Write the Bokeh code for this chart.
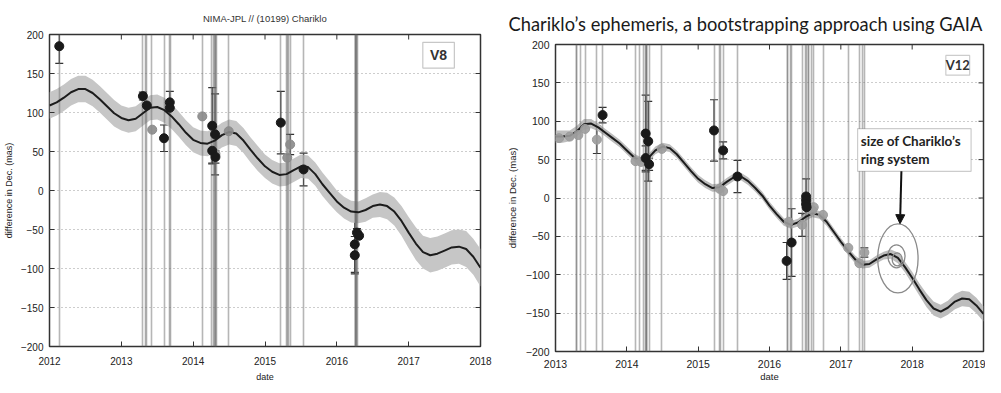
import math
from bokeh.plotting import figure
from bokeh.layouts import row, column
from bokeh.models import (ColumnDataSource, FixedTicker, Whisker, TeeHead, Range1d,
                          BoxAnnotation, Label, Arrow, NormalHead)
from bokeh.embed import file_html
from bokeh.resources import INLINE

# ------------------------------------------------------------------ data
L_YEARS = [2012, 2013, 2014, 2015, 2016, 2017, 2018]
R_YEARS = [2013, 2014, 2015, 2016, 2017, 2018, 2019]
Y_TICKS = [-200, -150, -100, -50, 0, 50, 100, 150, 200]
Y_LABELS = ["\u2212200", "\u2212150", "\u2212100", "\u221250", "0", "50", "100", "150", "200"]
Y_GRID = [-150, -100, -50, 0, 50, 100, 150]

LEFT_TITLE = "NIMA-JPL // (10199) Chariklo"
RIGHT_TITLE = "Chariklo\u2019s ephemeris, a bootstrapping approach using GAIA"
Y_LABEL = "difference in Dec. (mas)"
X_LABEL = "date"
LEFT_TAG = "V8"
RIGHT_TAG = "V12"
NOTE_LINES = ["size of Chariklo\u2019s", "ring system"]

# left panel (V8) model curve and its uncertainty band
L_T = [2012.0, 2012.1, 2012.2, 2012.3, 2012.4, 2012.5, 2012.6, 2012.7, 2012.8, 2012.9,
       2013.0, 2013.1, 2013.2, 2013.3, 2013.4, 2013.5, 2013.6, 2013.7, 2013.8, 2013.9,
       2014.0, 2014.1, 2014.2, 2014.3, 2014.4, 2014.5, 2014.6, 2014.7, 2014.8, 2014.9,
       2015.0, 2015.1, 2015.2, 2015.3, 2015.4, 2015.5, 2015.6, 2015.7, 2015.8, 2015.9,
       2016.0, 2016.1, 2016.2, 2016.3, 2016.4, 2016.5, 2016.6, 2016.7, 2016.8, 2016.9,
       2017.0, 2017.1, 2017.2, 2017.3, 2017.4, 2017.5, 2017.6, 2017.7, 2017.8, 2017.9,
       2018.0]
L_MODEL = [109, 113, 119, 126, 130, 130, 125, 117, 108, 99,
           93, 90, 92, 99, 106, 107, 103, 95, 85, 74,
           65, 61, 60, 64, 71, 75, 73, 64, 52, 41,
           31, 24, 20, 21, 26, 31, 30, 21, 8, -3,
           -14, -22, -27, -28, -25, -20, -18, -20, -27, -39,
           -54, -68, -79, -83, -81, -77, -73, -72, -75, -85,
           -99]
L_SIGMA = [17, 17, 17, 17, 17, 17, 17, 17, 17, 17,
           16, 16, 16, 16, 16, 16, 16, 16, 16, 16,
           16, 16, 16, 16, 16, 16, 16, 16, 16, 16,
           15, 15, 15, 15, 15, 15, 15, 15, 15, 15,
           14, 14, 14, 14, 15, 15, 16, 17, 18, 19,
           20, 21, 21, 22, 22, 22, 22, 22, 23, 23,
           24]

# right panel (V12) model curve and its uncertainty band
R_T = [2013.0, 2013.1, 2013.2, 2013.3, 2013.4, 2013.5, 2013.6, 2013.7, 2013.8, 2013.9,
       2014.0, 2014.1, 2014.2, 2014.3, 2014.4, 2014.5, 2014.6, 2014.7, 2014.8, 2014.9,
       2015.0, 2015.1, 2015.2, 2015.3, 2015.4, 2015.5, 2015.6, 2015.7, 2015.8, 2015.9,
       2016.0, 2016.1, 2016.2, 2016.3, 2016.4, 2016.5, 2016.6, 2016.7, 2016.8, 2016.9,
       2017.0, 2017.1, 2017.2, 2017.3, 2017.4, 2017.5, 2017.6, 2017.7, 2017.8, 2017.9,
       2018.0, 2018.1, 2018.2, 2018.3, 2018.4, 2018.5, 2018.6, 2018.7, 2018.8, 2018.9,
       2019.0]
R_MODEL = [80, 80, 81, 87, 96, 97, 92, 85, 78, 71,
           62, 53, 48, 52, 62, 67, 65, 57, 46, 35,
           25, 18, 13, 14, 21, 27, 28, 22, 13, 3,
           -10, -21, -31, -35, -32, -25, -20, -22, -31, -44,
           -57, -69, -80, -87, -86, -80, -75, -73, -78, -90,
           -104, -119, -133, -144, -148, -143, -135, -131, -132, -140,
           -151]
R_SIGMA = [8, 8, 7, 7, 7, 6, 5, 5, 5, 5,
           5, 5, 5, 5, 5, 5, 5, 5, 5, 5,
           5, 5, 5, 5, 5, 5, 5, 5, 5, 5,
           5, 5, 5, 5, 5, 5, 5, 5, 5, 5,
           5, 5, 5, 5, 5, 5, 5, 6, 7, 7,
           8, 8, 9, 9, 9, 9, 10, 10, 10, 10,
           10]

# observation dates (vertical lines)
L_OBS = [2012.136,
         2013.300, 2013.330, 2013.355, 2013.425, 2013.594, 2013.668, 2013.685,
         2014.127, 2014.257, 2014.280, 2014.295, 2014.305, 2014.312, 2014.327, 2014.495,
         2015.210, 2015.305, 2015.318, 2015.330, 2015.350, 2015.537,
         2016.255, 2016.260, 2016.266, 2016.272, 2016.278, 2016.283]
R_OBS = [2013.290, 2013.300, 2013.344, 2013.415, 2013.580, 2013.660,
         2014.122, 2014.180, 2014.227, 2014.265, 2014.270, 2014.276, 2014.282, 2014.320, 2014.490,
         2015.222, 2015.300, 2015.316, 2015.350, 2015.551,
         2016.250, 2016.259, 2016.300, 2016.307,
         2016.457, 2016.500, 2016.513, 2016.540, 2016.552, 2016.590, 2016.620, 2016.750,
         2017.105, 2017.255, 2017.300, 2017.330]

# measured offsets (dark = black dots, grey = grey dots)
L_DARK_T = [2012.136, 2013.300, 2013.355, 2013.594, 2013.675, 2013.675, 2014.265, 2014.265,
            2014.305, 2014.310, 2015.220, 2015.537, 2016.250, 2016.250, 2016.280, 2016.310]
L_DARK_Y = [185, 121, 109, 67, 113, 106, 83, 51, 72, 43, 87, 27, -69, -83, -54, -58]
L_GREY_T = [2013.430, 2014.127, 2014.310, 2014.495, 2015.310, 2015.350]
L_GREY_Y = [78, 95, 47, 76, 42, 59]
L_ERR_T = [2012.136, 2013.300, 2013.355, 2013.594, 2013.675, 2014.265, 2014.265, 2014.305,
           2014.310, 2015.220, 2015.350, 2015.537, 2016.250, 2016.250, 2016.280]
L_ERR_Y = [185, 121, 109, 67, 113, 83, 51, 72, 43, 87, 59, 27, -69, -83, -54]
L_ERR_E = [22, 5, 5, 17, 14, 49, 16, 52, 8, 40, 13, 21, 36, 24, 5]

R_DARK_T = [2013.660, 2014.264, 2014.300, 2014.264, 2014.312, 2015.222, 2015.350, 2015.551,
            2016.240, 2016.310, 2016.513, 2016.513, 2016.513, 2016.520]
R_DARK_Y = [108, 84, 74, 52, 44, 88, 62, 28, -82, -58, 2, -3, -8, -12]
R_GREY_T = [2013.050, 2013.200, 2013.320, 2013.415, 2013.580, 2014.122, 2014.200, 2014.490,
            2015.300, 2015.350, 2016.270, 2016.457, 2016.600, 2016.620, 2016.750, 2017.105,
            2017.260, 2017.330]
R_GREY_Y = [78, 80, 82, 90, 76, 48, 47, 64, 12, 9, -31, -35, -16, -12, -22, -65, -85, -71]
R_ERR_T = [2013.580, 2013.660, 2014.264, 2014.300, 2014.264, 2014.312, 2015.222, 2015.350,
           2015.551, 2016.240, 2016.310, 2016.513, 2016.457, 2017.330]
R_ERR_Y = [76, 108, 84, 74, 52, 44, 88, 62, 28, -82, -58, 2, -35, -71]
R_ERR_E = [18, 10, 50, 52, 16, 8, 40, 11, 21, 24, 44, 23, 15, 6]

# ring-system sketch (ellipses) on the right panel
RING_X = [2017.80, 2017.78, 2017.79]
RING_Y = [-78.7, -76.0, -80.0]
RING_W = [0.566, 0.24, 0.14]
RING_H = [90, 30, 17]

# ------------------------------------------------------------------ helpers
TEXT_COL = "#222222"


def style_axes(p, years, tick_font, xlabel_size, ylabel_size, ylabel_standoff, xlabel_standoff,
               x_label_standoff):
    xa = p.below[0]
    ya = p.left[0]
    xa.ticker = FixedTicker(ticks=years)
    ya.ticker = FixedTicker(ticks=Y_TICKS)
    ya.major_label_overrides = dict(zip(Y_TICKS, Y_LABELS))
    p.xgrid.visible = False
    p.ygrid.ticker = FixedTicker(ticks=Y_GRID)
    p.ygrid.grid_line_color = "#9a9a9a"
    p.ygrid.grid_line_dash = "1 3"
    p.ygrid.grid_line_width = 1
    for ax in (xa, ya):
        ax.axis_line_color = None
        ax.major_tick_in = 5
        ax.major_tick_out = 0
        ax.major_tick_line_color = "#333333"
        ax.minor_tick_line_color = None
        ax.major_label_text_font = "Liberation Sans"
        ax.major_label_text_font_size = tick_font
        ax.major_label_text_color = TEXT_COL
        ax.axis_label_text_font = "Liberation Sans"
        ax.axis_label_text_font_style = "normal"
        ax.axis_label_text_color = TEXT_COL
    xa.axis_label = X_LABEL
    ya.axis_label = Y_LABEL
    xa.axis_label_text_font_size = xlabel_size
    ya.axis_label_text_font_size = ylabel_size
    xa.major_label_standoff = x_label_standoff
    ya.major_label_standoff = 6
    xa.axis_label_standoff = xlabel_standoff
    ya.axis_label_standoff = ylabel_standoff
    # mirrored inward ticks on the top and right edges (half of each dash is clipped by the frame)
    p.scatter(x=years, y=[Y_TICKS[-1]] * len(years), marker="dash", angle=math.pi / 2,
              size=10, line_color="#333333", line_width=1)
    p.scatter(x=[years[-1]] * len(Y_TICKS), y=Y_TICKS, marker="dash",
              size=10, line_color="#333333", line_width=1)
    p.outline_line_color = "#333333"
    p.outline_line_width = 1.5
    p.outline_line_alpha = 1


def draw_data(p, t, model, sigma, obs, dk_t, dk_y, gr_t, gr_y, e_t, e_y, e_e, band_col,
              grey_col):
    lo = [m - s for m, s in zip(model, sigma)]
    hi = [m + s for m, s in zip(model, sigma)]
    p.varea(x=t, y1=lo, y2=hi, fill_color=band_col, fill_alpha=1)
    p.vspan(x=obs, line_color="#6e6e6e", line_alpha=0.5, line_width=1.6)
    p.line(t, model, line_color="#1c1c1c", line_width=2)
    src = ColumnDataSource(dict(t=e_t, lo=[y - e for y, e in zip(e_y, e_e)],
                                hi=[y + e for y, e in zip(e_y, e_e)]))
    p.add_layout(Whisker(source=src, base="t", upper="hi", lower="lo", dimension="height",
                         line_color="#333333", line_width=1.2,
                         upper_head=TeeHead(size=8, line_color="#333333", line_width=1.2),
                         lower_head=TeeHead(size=8, line_color="#333333", line_width=1.2)))
    p.scatter(gr_t, gr_y, size=9, fill_color=grey_col, line_color=grey_col, fill_alpha=0.9)
    p.scatter(dk_t, dk_y, size=9, fill_color="#1a1a1a", line_color="#1a1a1a")


# ------------------------------------------------------------------ left panel
p1 = figure(width=492, height=384, x_range=Range1d(L_YEARS[0], L_YEARS[-1]),
            y_range=Range1d(-200, 200), output_backend="svg", toolbar_location=None,
            min_border_left=44, min_border_right=12, min_border_top=33, min_border_bottom=38,
            title=LEFT_TITLE)
p1.title.align = "center"
p1.title.text_font = "Liberation Sans"
p1.title.text_font_size = "9.5px"
p1.title.text_font_style = "normal"
p1.title.text_color = "#333333"
p1.title.standoff = 21
style_axes(p1, L_YEARS, "10px", "9px", "9px", 4, 4, 10)
draw_data(p1, L_T, L_MODEL, L_SIGMA, L_OBS, L_DARK_T, L_DARK_Y, L_GREY_T, L_GREY_Y,
          L_ERR_T, L_ERR_Y, L_ERR_E, "#c6c6c6", "#8a8a8a")
p1.add_layout(BoxAnnotation(left=2017.197, right=2017.636, top=190, bottom=157,
                            fill_color="white", fill_alpha=1, line_color="#444444",
                            line_width=1.2))
p1.add_layout(Label(x=2017.416, y=173.5, text=LEFT_TAG, text_align="center",
                    text_baseline="middle", text_font="Liberation Sans",
                    text_font_style="bold", text_font_size="14px", text_color="#333333"))

# ------------------------------------------------------------------ right panel
p2 = figure(width=493, height=384, x_range=Range1d(R_YEARS[0], R_YEARS[-1]),
            y_range=Range1d(-200, 200), output_backend="svg", toolbar_location=None,
            min_border_left=63, min_border_right=2, min_border_top=43, min_border_bottom=31,
            title=RIGHT_TITLE)
p2.title.align = "left"
p2.title.offset = -47
p2.title.text_font = "Lato"
p2.title.text_font_size = "18.3px"
p2.title.text_font_style = "normal"
p2.title.text_color = "#1a1a1a"
p2.title.standoff = 20
style_axes(p2, R_YEARS, "10.5px", "9.5px", "9.5px", 5, 0, 8)
draw_data(p2, R_T, R_MODEL, R_SIGMA, R_OBS, R_DARK_T, R_DARK_Y, R_GREY_T, R_GREY_Y,
          R_ERR_T, R_ERR_Y, R_ERR_E, "#bdbdbd", "#9c9c9c")
p2.ellipse(x=RING_X, y=RING_Y, width=RING_W, height=RING_H, fill_color=None,
           line_color="#8a8a8a", line_width=1.3)
p2.add_layout(BoxAnnotation(left=2018.472, right=2018.806, top=185.8, bottom=160,
                            fill_color="white", fill_alpha=1, line_color="#555555",
                            line_width=1.2))
p2.add_layout(Label(x=2018.639, y=173, text=RIGHT_TAG, text_align="center",
                    text_baseline="middle", text_font="Lato", text_font_style="bold",
                    text_font_size="13px", text_color="#333333"))
p2.add_layout(BoxAnnotation(left=2017.235, right=2018.826, top=90.3, bottom=34.8,
                            fill_color="white", fill_alpha=1, line_color="#555555",
                            line_width=1.2))
for i, line_text in enumerate(NOTE_LINES):
    p2.add_layout(Label(x=2017.28, y=[73.9, 50.3][i], text=line_text, text_align="left",
                        text_baseline="middle", text_font="Lato", text_font_style="bold",
                        text_font_size="13.5px", text_color="#222222"))
p2.add_layout(Arrow(end=NormalHead(size=9, fill_color="#111111", line_color="#111111"),
                    x_start=2017.849, y_start=34.8, x_end=2017.83, y_end=-33.5,
                    line_color="#111111", line_width=2))

layout = row(column(p1), column(p2))
open("out.html", "w").write(file_html(layout, INLINE))
